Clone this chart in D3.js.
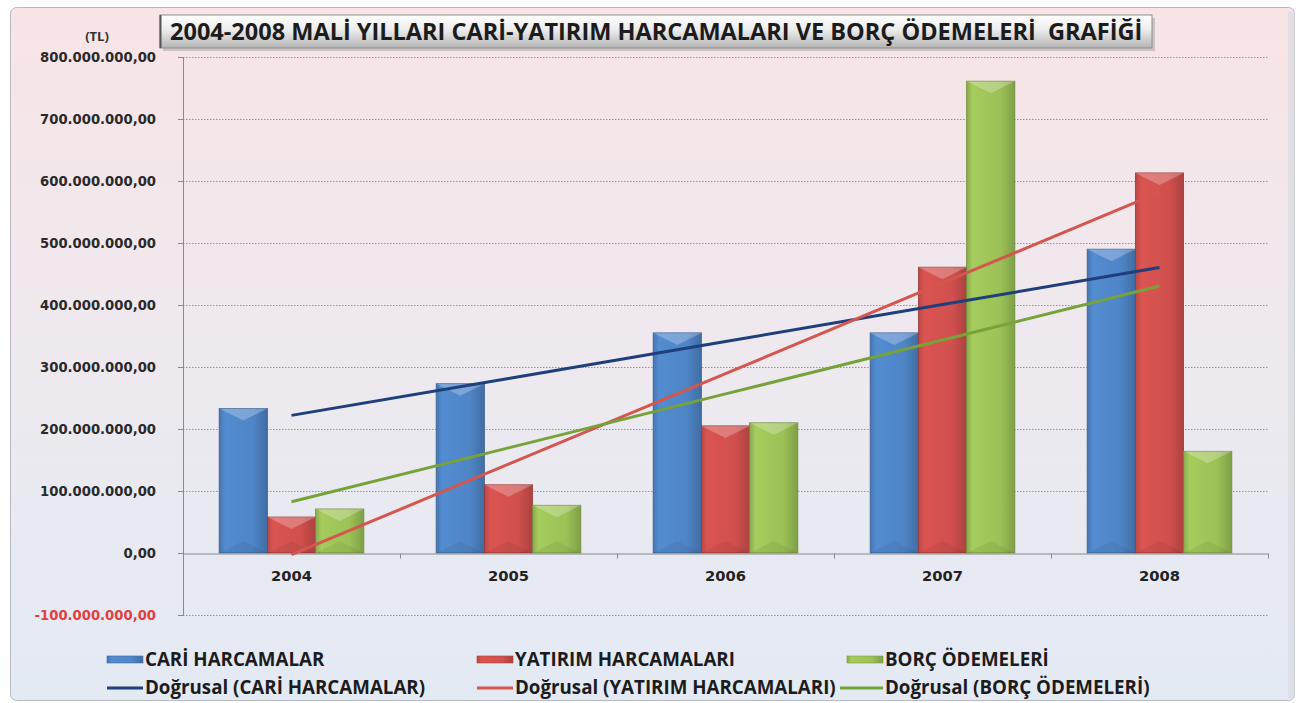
<!DOCTYPE html>
<html>
<head>
<meta charset="utf-8">
<script src="https://cdn.jsdelivr.net/npm/d3@7"></script>
<style>
  body { margin: 0; background: #ffffff; }
  svg { display: block; }
</style>
</head>
<body>
<div id="wrapper"></div>
<script>
// data
const years = ["2004", "2005", "2006", "2007", "2008"]
const cariHarcamalar = [233e6, 273e6, 355e6, 355e6, 490e6]
const yatirimHarcamalari = [58e6, 110e6, 205e6, 461e6, 613e6]
const borcOdemeleri = [71e6, 77e6, 210e6, 761e6, 164e6]
const seriesNames = ["CARİ HARCAMALAR", "YATIRIM HARCAMALARI", "BORÇ ÖDEMELERİ"]
const yTicks = [-100e6, 0, 100e6, 200e6, 300e6, 400e6, 500e6, 600e6, 700e6, 800e6]
const titleText = "2004-2008 MALİ YILLARI CARİ-YATIRIM HARCAMALARI VE BORÇ ÖDEMELERİ  GRAFİĞİ"
const unitText = "(TL)"

const seriesValues = [cariHarcamalar, yatirimHarcamalari, borcOdemeleri]
const barColors = ["#4f85c6", "#d0504d", "#9cc157"]
const trendColors = ["#1f3f7c", "#d5564f", "#76a23a"]

const width = 1302
const height = 703
let dimensions = {
  width: width,
  height: height,
  margin: { top: 57, right: 34, bottom: 88, left: 183 },
}
dimensions.boundedWidth = dimensions.width - dimensions.margin.left - dimensions.margin.right
dimensions.boundedHeight = dimensions.height - dimensions.margin.top - dimensions.margin.bottom

const svg = d3.select("#wrapper").append("svg")
    .attr("width", dimensions.width)
    .attr("height", dimensions.height)

const defs = svg.append("defs")

// background gradient pink -> light blue
const bg = defs.append("linearGradient").attr("id", "bg")
    .attr("x1", 0).attr("y1", 0).attr("x2", 0).attr("y2", 1)
bg.append("stop").attr("offset", "0%").attr("stop-color", "#f8e4e6")
bg.append("stop").attr("offset", "50%").attr("stop-color", "#eee9ef")
bg.append("stop").attr("offset", "100%").attr("stop-color", "#e3eaf4")

const titleGrad = defs.append("linearGradient").attr("id", "titleGrad")
    .attr("x1", 0).attr("y1", 0).attr("x2", 0).attr("y2", 1)
titleGrad.append("stop").attr("offset", "0%").attr("stop-color", "#ffffff")
titleGrad.append("stop").attr("offset", "45%").attr("stop-color", "#ececec")
titleGrad.append("stop").attr("offset", "100%").attr("stop-color", "#b4b4b4")

barColors.forEach((c, i) => {
  const g = defs.append("linearGradient").attr("id", "bar" + i)
      .attr("x1", 0).attr("y1", 0).attr("x2", 1).attr("y2", 0)
  g.append("stop").attr("offset", "0%").attr("stop-color", d3.color(c).darker(0.35))
  g.append("stop").attr("offset", "12%").attr("stop-color", d3.color(c).brighter(0.15))
  g.append("stop").attr("offset", "70%").attr("stop-color", c)
  g.append("stop").attr("offset", "100%").attr("stop-color", d3.color(c).darker(0.55))
})

// frame
svg.append("rect")
    .attr("x", 10.5).attr("y", 7.5)
    .attr("width", 1284).attr("height", 693)
    .attr("rx", 6)
    .attr("fill", "url(#bg)")
    .attr("stroke", "#b9b9c2")
svg.append("rect")
    .attr("x", 1288).attr("y", 12)
    .attr("width", 7).attr("height", 686)
    .attr("fill", "#d8dbe2").attr("opacity", 0.7)

const bounds = svg.append("g")
    .attr("transform", `translate(${dimensions.margin.left}, ${dimensions.margin.top})`)

// fit a text element to a width by changing its font size
const fitSize = (sel, target) => {
  const w = sel.node().getComputedTextLength()
  const fs = parseFloat(sel.attr("font-size"))
  sel.attr("font-size", fs * target / w)
  return fs * target / w
}
const measure = (text, family, size, target) => {
  const t = svg.append("text")
      .attr("font-family", family).attr("font-weight", "bold").attr("font-size", size)
      .text(text)
  const s = fitSize(t, target)
  t.remove()
  return s
}

// scales
const xScale = d3.scaleBand()
    .domain(years)
    .range([0, dimensions.boundedWidth])
    .paddingInner(0).paddingOuter(0)

const yScale = d3.scaleLinear()
    .domain([-100e6, 800e6])
    .range([dimensions.boundedHeight, 0])

const barW = xScale.bandwidth() / 4.5
const xBar = (year, i) => xScale(year) + xScale.bandwidth() / 2 + (i - 1.5) * barW

const trFormat = d3.formatLocale({ decimal: ",", thousands: ".", grouping: [3], currency: ["", ""], minus: "-" }).format(",.2f")

// gridlines
bounds.append("g")
  .selectAll("line")
  .data(yTicks.filter(d => d !== 0))
  .enter().append("line")
    .attr("x1", 0).attr("x2", dimensions.boundedWidth)
    .attr("y1", d => Math.round(yScale(d)) + 0.5)
    .attr("y2", d => Math.round(yScale(d)) + 0.5)
    .attr("stroke", "#8f94ad")
    .attr("stroke-dasharray", "1.5,1.5")

// y axis
const yLabelSize = measure(trFormat(800e6), "DejaVu Sans", 12, 116)
const yAxisGenerator = d3.axisLeft(yScale)
    .tickValues(yTicks)
    .tickFormat(trFormat)
    .tickSize(5)
    .tickPadding(22)
const yAxis = bounds.append("g").call(yAxisGenerator)
yAxis.select(".domain").attr("stroke", "#8a8a8a")
yAxis.selectAll(".tick line").attr("stroke", "#8a8a8a")
yAxis.selectAll(".tick text")
    .attr("font-family", "DejaVu Sans")
    .attr("font-weight", "bold")
    .attr("font-size", yLabelSize)
    .attr("fill", d => d < 0 ? "#e2403f" : "#2a2a2a")

// bars
seriesValues.forEach((vals, i) => {
  const g = bounds.append("g")
  const bar = g.selectAll("g").data(years.map((y, j) => ({ year: y, value: vals[j] })))
    .enter().append("g")
  bar.append("rect")
      .attr("x", d => xBar(d.year, i))
      .attr("y", d => yScale(d.value))
      .attr("width", barW)
      .attr("height", d => yScale(0) - yScale(d.value))
      .attr("fill", `url(#bar${i})`)
      .attr("stroke", d3.color(barColors[i]).darker(0.9))
      .attr("stroke-width", 0.8)
  // bevel: lighter V on top, faint darker V on bottom
  bar.append("path")
      .attr("d", d => {
        const x0 = xBar(d.year, i), y0 = yScale(d.value), b = Math.min(12, (yScale(0) - y0) / 2)
        return `M${x0},${y0}L${x0 + barW},${y0}L${x0 + barW / 2},${y0 + b}Z`
      })
      .attr("fill", "#ffffff").attr("opacity", 0.25)
  bar.append("path")
      .attr("d", d => {
        const x0 = xBar(d.year, i), y1 = yScale(0), b = Math.min(12, (y1 - yScale(d.value)) / 2)
        return `M${x0},${y1}L${x0 + barW},${y1}L${x0 + barW / 2},${y1 - b}Z`
      })
      .attr("fill", "#000000").attr("opacity", 0.06)
})

// x axis at zero
const xLabelSize = measure(years[0], "DejaVu Sans", 13, 41)
const xAxisGenerator = d3.axisBottom(xScale).tickSize(0).tickPadding(17)
const xAxis = bounds.append("g")
    .attr("transform", `translate(0, ${Math.round(yScale(0)) + 0.5})`)
    .call(xAxisGenerator)
xAxis.select(".domain").attr("stroke", "#8a8a8a")
xAxis.selectAll(".tick text")
    .attr("font-family", "DejaVu Sans")
    .attr("font-weight", "bold")
    .attr("font-size", xLabelSize)
    .attr("fill", "#222")
xAxis.append("g").selectAll("line")
  .data(d3.range(years.length + 1))
  .enter().append("line")
    .attr("x1", d => Math.round(d * xScale.bandwidth()) + 0.5)
    .attr("x2", d => Math.round(d * xScale.bandwidth()) + 0.5)
    .attr("y1", 0).attr("y2", 5)
    .attr("stroke", "#8a8a8a")

// linear trend lines (least squares over category index, as the spreadsheet does)
const trend = vals => {
  const xs = vals.map((v, i) => i + 1)
  const mx = d3.mean(xs), my = d3.mean(vals)
  const slope = d3.sum(xs, (x, i) => (x - mx) * (vals[i] - my)) / d3.sum(xs, x => (x - mx) ** 2)
  return xs.map(x => my + slope * (x - mx))
}
const line = d3.line()
    .x((d, i) => xScale(years[i]) + xScale.bandwidth() / 2)
    .y(d => yScale(d))
seriesValues.forEach((vals, i) => {
  bounds.append("path")
      .attr("d", line(trend(vals)))
      .attr("fill", "none")
      .attr("stroke", trendColors[i])
      .attr("stroke-width", 3)
})

// title box
svg.append("rect")
    .attr("x", 163).attr("y", 18).attr("width", 992).attr("height", 33)
    .attr("fill", "#9a9a9a").attr("opacity", 0.45)
svg.append("rect")
    .attr("x", 160).attr("y", 15).attr("width", 992).attr("height", 33)
    .attr("fill", "url(#titleGrad)")
    .attr("stroke", "#8c8c8c")
svg.append("line")
    .attr("x1", 160.5).attr("x2", 160.5).attr("y1", 15).attr("y2", 48)
    .attr("stroke", "#555").attr("stroke-width", 2)
const title = svg.append("text")
    .attr("x", 170).attr("y", 40)
    .attr("font-family", "Open Sans")
    .attr("font-weight", "bold")
    .attr("font-size", 22)
    .attr("fill", "#1c1c1c")
    .style("white-space", "pre")
    .text(titleText)
fitSize(title, 973)

svg.append("text")
    .attr("x", 97).attr("y", 41)
    .attr("text-anchor", "middle")
    .attr("font-family", "Open Sans")
    .attr("font-weight", "bold")
    .attr("font-size", 13)
    .attr("fill", "#333")
    .text(unitText)

// legend
const legendX = [107, 477, 847]
const legend = svg.append("g")
const legendSize = measure(seriesNames[1], "Open Sans", 16, 220)
seriesNames.forEach((name, i) => {
  legend.append("rect")
      .attr("x", legendX[i]).attr("y", 656)
      .attr("width", 36).attr("height", 7)
      .attr("fill", `url(#bar${i})`)
      .attr("stroke", d3.color(barColors[i]).darker(0.6)).attr("stroke-width", 0.6)
  legend.append("text")
      .attr("x", legendX[i] + 38).attr("y", 666)
      .attr("font-family", "Open Sans").attr("font-weight", "bold").attr("font-size", legendSize)
      .attr("fill", "#1c1c1c")
      .text(name)
  legend.append("line")
      .attr("x1", legendX[i] - (i === 2 ? 7 : 0)).attr("x2", legendX[i] + 36)
      .attr("y1", 688).attr("y2", 688)
      .attr("stroke", trendColors[i]).attr("stroke-width", 3)
  legend.append("text")
      .attr("x", legendX[i] + 38).attr("y", 694)
      .attr("font-family", "Open Sans").attr("font-weight", "bold").attr("font-size", legendSize)
      .attr("fill", "#1c1c1c")
      .text(`Doğrusal (${name})`)
})
</script>
</body>
</html>
